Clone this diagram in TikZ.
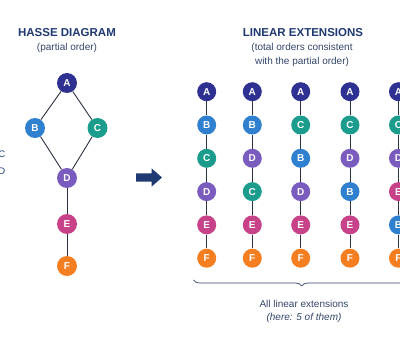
\documentclass[tikz,border=0pt]{standalone}
\usepackage{fontspec}
\setmainfont{Liberation Sans}
\usetikzlibrary{decorations.pathreplacing}
\definecolor{cA}{HTML}{2E3192}
\definecolor{cB}{HTML}{2F80CF}
\definecolor{cC}{HTML}{1B9C8C}
\definecolor{cD}{HTML}{7A5CBE}
\definecolor{cE}{HTML}{C8428A}
\definecolor{cF}{HTML}{F47E20}
\definecolor{navy}{HTML}{1F3A73}
\definecolor{subtext}{HTML}{34466B}
\definecolor{edgec}{HTML}{2B3240}
\tikzset{
  vtx/.style={circle, inner sep=0pt, minimum size=#1, text=white, font=\fontsize{10}{11}\selectfont\bfseries},
  vtx/.default=20pt,
  lv/.style={vtx=19pt},
  title/.style={text=navy, font=\fontsize{11.5}{13}\selectfont\bfseries},
  sub/.style={text=subtext, font=\fontsize{10}{13.4}\selectfont, align=center},
  edge/.style={draw=edgec, line width=0.9pt},
}
\begin{document}
\begin{tikzpicture}[x=1pt,y=-1pt]
\useasboundingbox (0,0) rectangle (400,350);
\clip (0,0) rectangle (400,350);
\fill[white] (0,0) rectangle (400,350);
% titles
\node[title] (t1) at (67,33) {HASSE DIAGRAM};
\node[sub] (s1) at (67,48) {(partial order)};
\node[title] (t2) at (303,33) {LINEAR EXTENSIONS};
\node[sub] (s2) at (302,55) {(total orders consistent\\with the partial order)};
% cut-off texts on the left
\node[text=navy, font=\fontsize{9.5}{10}\selectfont, anchor=east, inner sep=0pt] (lc) at (5.5,154) {C};
\node[text=navy, font=\fontsize{9.5}{10}\selectfont, anchor=east, inner sep=0pt] (ld) at (5.5,171) {D};
% Hasse diagram
\node[vtx, fill=cA] (A) at (67,83) {A};
\node[vtx, fill=cB] (B) at (35,128) {B};
\node[vtx, fill=cC] (C) at (97.5,128) {C};
\node[vtx, fill=cD] (D) at (67,178) {D};
\node[vtx, fill=cE] (E) at (67,224) {E};
\node[vtx, fill=cF] (F) at (67,266) {F};
\draw[edge] (A) -- (B);
\draw[edge] (A) -- (C);
\draw[edge] (B) -- (D);
\draw[edge] (C) -- (D);
\draw[edge] (D) -- (E);
\draw[edge] (E) -- (F);
% big arrow
\fill[navy] (136,173.3) -- (151.5,173.3) -- (151.5,168.3) -- (162,177.5) -- (151.5,186.7) -- (151.5,181.7) -- (136,181.7) -- cycle;
% linear extensions
\foreach \col/\x/\seq in {1/206.7/{A,B,C,D,E,F}, 2/252.3/{A,B,D,C,E,F}, 3/300.7/{A,C,B,D,E,F}, 4/350/{A,C,D,B,E,F}, 5/398.5/{A,C,D,E,B,F}}{
  \foreach \l [count=\r] in \seq {
    \node[lv, fill=c\l] (L\col-\r) at (\x, {91.7+33.3*(\r-1)}) {\l};
  }
  \foreach \r [evaluate=\r as \n using int(\r+1)] in {1,...,5} {
    \draw[edge] (L\col-\r) -- (L\col-\n);
  }
}
% brace
\coordinate (bl) at (193.5,280);
\coordinate (br) at (410,280);
\draw[subtext, line width=0.7pt, decorate, decoration={brace, mirror, amplitude=6pt}] (bl) -- (br);
\node[sub] (b1) at (304,303.5) {All linear extensions};
\node[sub, font=\fontsize{10}{13}\selectfont\itshape] (b2) at (304,317.5) {(here: 5 of them)};
\end{tikzpicture}
\end{document}
